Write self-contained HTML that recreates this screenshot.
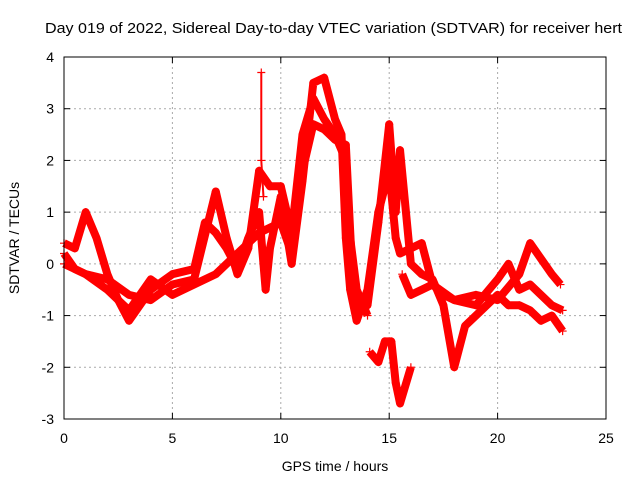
<!DOCTYPE html>
<html><head><meta charset="utf-8"><style>
body{margin:0;background:#fff;width:640px;height:480px;overflow:hidden}
svg{font-family:"Liberation Sans",sans-serif}
</style></head><body>
<svg id="chart" width="640" height="480">
<text x="45" y="33" textLength="577" lengthAdjust="spacingAndGlyphs" font-size="15">Day 019 of 2022, Sidereal Day-to-day VTEC variation (SDTVAR) for receiver hert</text>
<text x="335" y="471" text-anchor="middle" font-size="14">GPS time / hours</text>
<text transform="translate(19,238) rotate(-90)" text-anchor="middle" font-size="14">SDTVAR / TECUs</text>
<g id="grid"></g><g id="ticks"></g><g id="marks"></g>
<rect x="64" y="57" width="542" height="362" fill="none" stroke="#000"/>
</svg>
<script>
const xTicks=[0,5,10,15,20,25];
const yTicks=[-3,-2,-1,0,1,2,3,4];
const seriesA=[[0,0.4],[0.5,0.3],[1,1.0],[1.5,0.5],[2,-0.2],[2.5,-0.7],[3,-1.1],[3.5,-0.8],[4,-0.5],[5,-0.2],[6,-0.1],[6.5,0.8],[7,0.6],[7.5,0.3],[8,-0.1],[8.5,0.5],[9,1.0],[9.3,-0.5],[9.5,0.3],[10,1.3],[10.5,0.0],[11,1.6],[11.5,3.5],[12,3.6],[12.5,2.8],[12.8,2.5],[13,0.5],[13.2,-0.5],[13.5,-1.1],[14,-0.5],[14.5,1.0],[15,1.8],[15.3,0.5],[15.5,0.2],[16,0.3],[16.5,0.4],[17,-0.4],[18,-0.7],[19,-0.6],[20,-0.7],[21,-0.2],[21.5,0.4],[22,0.1],[22.5,-0.2],[22.9,-0.4]];
const seriesB=[[0,0.2],[0.5,-0.1],[1,-0.2],[2,-0.3],[3,-0.6],[4,-0.7],[5,-0.4],[6,-0.3],[7,1.4],[7.5,0.5],[8,-0.2],[8.5,0.3],[9,1.8],[9.5,1.5],[10,1.5],[10.5,0.6],[11,2.5],[11.5,3.2],[12,2.8],[12.5,2.5],[13,2.0],[13.2,0.5],[13.5,-0.5],[14,-1.0]];
const seriesC=[[0,0.0],[1,-0.2],[2,-0.5],[3,-0.9],[4,-0.3],[5,-0.6],[6,-0.4],[7,-0.2],[8,0.2],[9,0.6],[10,0.8],[10.5,0.2],[11,1.8],[11.5,2.7],[12,2.6],[12.5,2.4],[13,2.3],[13.3,-0.2],[13.6,-0.9],[14,-0.8],[14.5,0.8],[15,2.7],[15.3,1.0],[15.5,2.2],[16,0.0],[16.5,-0.2],[17,-0.3],[17.5,-0.8],[18,-2.0],[18.5,-1.2],[19,-1.0],[20,-0.6],[20.5,-0.8],[21,-0.8],[21.5,-0.9],[22,-1.1],[22.5,-1.0],[23,-1.3]];
const seriesD=[[15.6,-0.2],[16,-0.6],[16.5,-0.5],[17,-0.4],[17.5,-0.6],[18,-0.7],[19,-0.8],[20,-0.3],[20.5,0.0],[21,-0.5],[21.5,-0.4],[22,-0.6],[22.5,-0.8],[23,-0.9]];
const seriesE=[[14.1,-1.7],[14.5,-1.9],[14.8,-1.5],[15.1,-1.5],[15.3,-2.3],[15.5,-2.7],[16,-2.0]];
const seriesF=[[9.1,3.7],[9.1,2.0],[9.2,1.3]];
const xs=h=>64+h*542/25, ys=v=>419-(v+3)*362/7;
const NS='http://www.w3.org/2000/svg';
const g=document.getElementById('grid'),t=document.getElementById('ticks'),m=document.getElementById('marks');
function el(n,a,p){const e=document.createElementNS(NS,n);for(const k in a)e.setAttribute(k,a[k]);p.appendChild(e);return e;}
xTicks.forEach(v=>{const x=xs(v);
if(v>0&&v<25){const l=el('line',{x1:x,x2:x,y1:57,y2:419,stroke:'#aaa','stroke-dasharray':'2,3'},g);

}
el('line',{x1:x,x2:x,y1:419,y2:413,stroke:'#000'},t);el('line',{x1:x,x2:x,y1:57,y2:63,stroke:'#000'},t);
const s=el('text',{x:x,y:443,'text-anchor':'middle','font-size':14},t);s.textContent=v;

});
yTicks.forEach(v=>{const y=ys(v);
if(v>-3&&v<4){const l=el('line',{x1:64,x2:606,y1:y,y2:y,stroke:'#aaa','stroke-dasharray':'2,3'},g);

}
el('line',{x1:64,x2:70,y1:y,y2:y,stroke:'#000'},t);el('line',{x1:606,x2:600,y1:y,y2:y,stroke:'#000'},t);
const s=el('text',{x:54,y:y+5,'text-anchor':'end','font-size':14},t);s.textContent=v;

});
[seriesA,seriesB,seriesC,seriesD,seriesE,seriesF].forEach((s,i)=>{
const pl=el('polyline',{points:s.map(p=>xs(p[0])+','+ys(p[1])).join(' '),fill:'none',stroke:'#f00','stroke-width':i==5?2:8,'stroke-linejoin':'round'},m);


s.forEach(p=>{const x=xs(p[0]),y=ys(p[1]);
const pm=el('path',{d:`M${x-4},${y}H${x+4}M${x},${y-4}V${y+4}`,stroke:'#f00','stroke-width':1.2},m);

});});
</script>
</body></html>
